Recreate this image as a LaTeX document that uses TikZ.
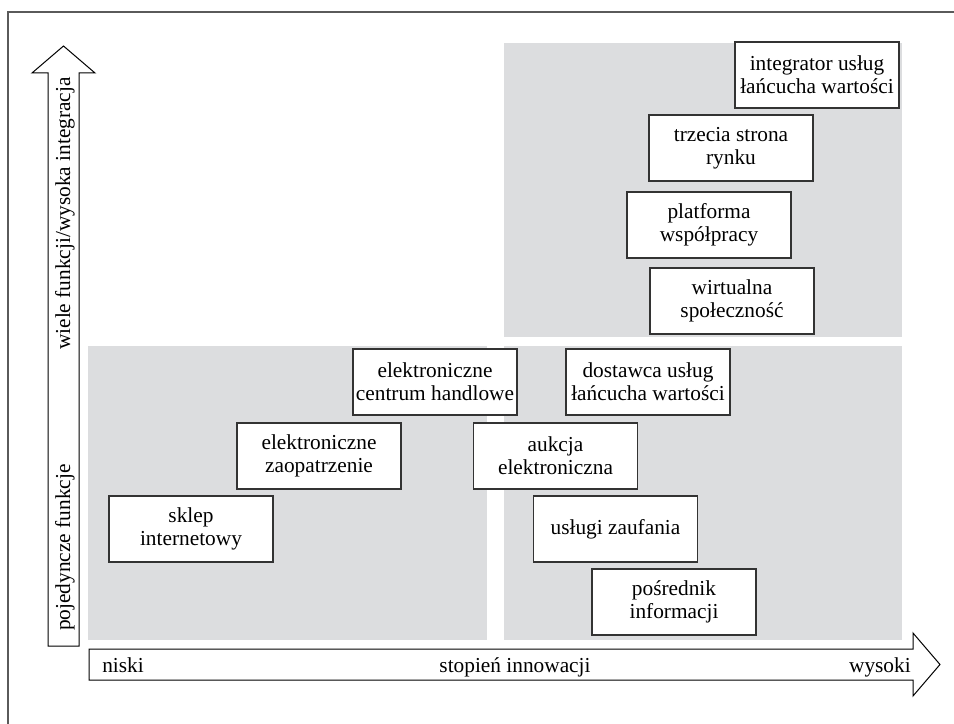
\documentclass[tikz,border=0pt]{standalone}
\usepackage{fontspec}
\setmainfont{Liberation Serif}
\usepackage{tikz}
\usetikzlibrary{positioning}
\definecolor{panelgrey}{HTML}{DCDDDF}
\definecolor{boxline}{HTML}{333333}
\definecolor{framegrey}{HTML}{5A5A5A}
\tikzset{
  modelbox/.style = {draw=boxline, line width=1.1pt, fill=white, align=center,
                     minimum width=123pt, minimum height=49.5pt, inner sep=0pt,
                     font=\fontsize{16}{17}\selectfont},
  panel/.style    = {fill=panelgrey, draw=none},
  axisarrow/.style= {draw=black, line width=0.75pt, fill=white},
  axislabel/.style= {inner sep=0pt, font=\fontsize{16}{17}\selectfont},
}

\begin{document}
\begin{tikzpicture}[x=0.75pt,y=-0.75pt]
    \useasboundingbox (0,0) rectangle (954,724);
    % frame and grey panels
    \draw[framegrey, line width=0.9pt] (8,760) -- (8,12) -- (990,12);
    \fill[panel] (504,43) rectangle (902,337);
    \fill[panel] (88,346) rectangle (487,640);
    \fill[panel] (504,346) rectangle (902,640);
    % axes
    \draw[axisarrow] (48,646) -- (48,73) -- (32,73) -- (63.5,46) -- (95,73) -- (79,73) -- (79,646) -- cycle;
    \draw[axisarrow] (89,649) -- (913,649) -- (913,633) -- (940,664.5) -- (913,696) -- (913,680) -- (89,680) -- cycle;
    \node[axislabel, rotate=90, anchor=base east] (multi) at (70,77) {wiele funkcji/wysoka integracja};
    \node[axislabel, rotate=90, anchor=base west] (single) at (70,631) {pojedyncze funkcje};
    \node[axislabel, anchor=base west] (low) at (102,672) {niski};
    \node[axislabel, anchor=base] (innov) at (515,672) {stopień innowacji};
    \node[axislabel, anchor=base east] (high) at (911,672) {wysoki};
    % business models
    \node[modelbox] (integr) at (817,75) {integrator usług\\łańcucha wartości};
    \node[modelbox] (third) at (731,148) {trzecia strona\\rynku};
    \node[modelbox] (collab) at (709,225) {platforma\\współpracy};
    \node[modelbox] (virt) at (732,301) {wirtualna\\społeczność};
    \node[modelbox] (mall) at (435,382) {elektroniczne\\centrum handlowe};
    \node[modelbox] (vcsp) at (648,382) {dostawca usług\\łańcucha wartości};
    \node[modelbox] (eproc) at (319,456) {elektroniczne\\zaopatrzenie};
    \node[modelbox] (auction) at (555.5,456) {aukcja\\elektroniczna};
    \node[modelbox] (shop) at (191,529) {sklep\\internetowy};
    \node[modelbox] (trust) at (615.5,529) {usługi zaufania};
    \node[modelbox] (broker) at (674,602) {pośrednik\\informacji};
\end{tikzpicture}
\end{document}
